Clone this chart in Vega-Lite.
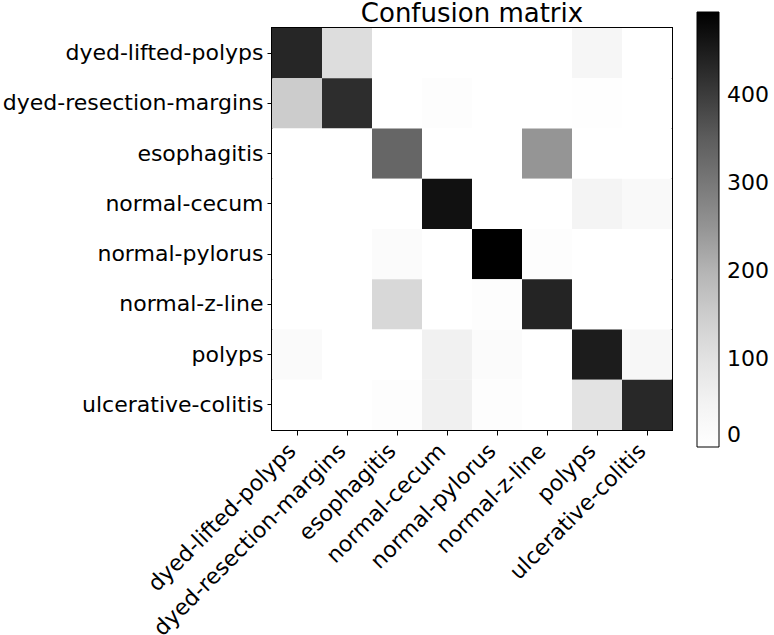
{
  "$schema": "https://vega.github.io/schema/vega-lite/v6.json",
  "autosize": {"type": "none"},
  "padding": {"left": 272, "top": 28, "right": 102, "bottom": 205},
  "width": 400,
  "height": 402,
  "background": "white",
  "title": {"text": "Confusion matrix", "fontSize": 26, "font": "DejaVu Sans", "fontWeight": "normal", "color": "black", "offset": 0, "dy": 15, "anchor": "middle", "frame": "group"},
  "config": {
    "view": {"stroke": "black", "strokeWidth": 2},
    "axis": {"labelFont": "DejaVu Sans", "labelFontSize": 22, "labelColor": "black", "domain": true, "domainColor": "black", "domainWidth": 1, "tickColor": "black", "tickSize": 5, "tickWidth": 1, "title": null, "grid": false, "zindex": 1},
    "legend": {"labelFont": "DejaVu Sans", "labelFontSize": 22, "labelColor": "black"}
  },
  "data": {"values": [
    {"true": "dyed-lifted-polyps", "pred": "dyed-lifted-polyps", "count": 431},
    {"true": "dyed-lifted-polyps", "pred": "dyed-resection-margins", "count": 113},
    {"true": "dyed-lifted-polyps", "pred": "esophagitis", "count": 0},
    {"true": "dyed-lifted-polyps", "pred": "normal-cecum", "count": 0},
    {"true": "dyed-lifted-polyps", "pred": "normal-pylorus", "count": 0},
    {"true": "dyed-lifted-polyps", "pred": "normal-z-line", "count": 0},
    {"true": "dyed-lifted-polyps", "pred": "polyps", "count": 37},
    {"true": "dyed-lifted-polyps", "pred": "ulcerative-colitis", "count": 0},
    {"true": "dyed-resection-margins", "pred": "dyed-lifted-polyps", "count": 152},
    {"true": "dyed-resection-margins", "pred": "dyed-resection-margins", "count": 420},
    {"true": "dyed-resection-margins", "pred": "esophagitis", "count": 0},
    {"true": "dyed-resection-margins", "pred": "normal-cecum", "count": 8},
    {"true": "dyed-resection-margins", "pred": "normal-pylorus", "count": 0},
    {"true": "dyed-resection-margins", "pred": "normal-z-line", "count": 0},
    {"true": "dyed-resection-margins", "pred": "polyps", "count": 4},
    {"true": "dyed-resection-margins", "pred": "ulcerative-colitis", "count": 0},
    {"true": "esophagitis", "pred": "dyed-lifted-polyps", "count": 0},
    {"true": "esophagitis", "pred": "dyed-resection-margins", "count": 0},
    {"true": "esophagitis", "pred": "esophagitis", "count": 333},
    {"true": "esophagitis", "pred": "normal-cecum", "count": 0},
    {"true": "esophagitis", "pred": "normal-pylorus", "count": 0},
    {"true": "esophagitis", "pred": "normal-z-line", "count": 249},
    {"true": "esophagitis", "pred": "polyps", "count": 0},
    {"true": "esophagitis", "pred": "ulcerative-colitis", "count": 0},
    {"true": "normal-cecum", "pred": "dyed-lifted-polyps", "count": 0},
    {"true": "normal-cecum", "pred": "dyed-resection-margins", "count": 0},
    {"true": "normal-cecum", "pred": "esophagitis", "count": 0},
    {"true": "normal-cecum", "pred": "normal-cecum", "count": 472},
    {"true": "normal-cecum", "pred": "normal-pylorus", "count": 0},
    {"true": "normal-cecum", "pred": "normal-z-line", "count": 0},
    {"true": "normal-cecum", "pred": "polyps", "count": 45},
    {"true": "normal-cecum", "pred": "ulcerative-colitis", "count": 25},
    {"true": "normal-pylorus", "pred": "dyed-lifted-polyps", "count": 0},
    {"true": "normal-pylorus", "pred": "dyed-resection-margins", "count": 0},
    {"true": "normal-pylorus", "pred": "esophagitis", "count": 16},
    {"true": "normal-pylorus", "pred": "normal-cecum", "count": 0},
    {"true": "normal-pylorus", "pred": "normal-pylorus", "count": 494},
    {"true": "normal-pylorus", "pred": "normal-z-line", "count": 8},
    {"true": "normal-pylorus", "pred": "polyps", "count": 0},
    {"true": "normal-pylorus", "pred": "ulcerative-colitis", "count": 0},
    {"true": "normal-z-line", "pred": "dyed-lifted-polyps", "count": 0},
    {"true": "normal-z-line", "pred": "dyed-resection-margins", "count": 0},
    {"true": "normal-z-line", "pred": "esophagitis", "count": 126},
    {"true": "normal-z-line", "pred": "normal-cecum", "count": 0},
    {"true": "normal-z-line", "pred": "normal-pylorus", "count": 8},
    {"true": "normal-z-line", "pred": "normal-z-line", "count": 434},
    {"true": "normal-z-line", "pred": "polyps", "count": 0},
    {"true": "normal-z-line", "pred": "ulcerative-colitis", "count": 0},
    {"true": "polyps", "pred": "dyed-lifted-polyps", "count": 21},
    {"true": "polyps", "pred": "dyed-resection-margins", "count": 0},
    {"true": "polyps", "pred": "esophagitis", "count": 0},
    {"true": "polyps", "pred": "normal-cecum", "count": 58},
    {"true": "polyps", "pred": "normal-pylorus", "count": 16},
    {"true": "polyps", "pred": "normal-z-line", "count": 0},
    {"true": "polyps", "pred": "polyps", "count": 451},
    {"true": "polyps", "pred": "ulcerative-colitis", "count": 33},
    {"true": "ulcerative-colitis", "pred": "dyed-lifted-polyps", "count": 0},
    {"true": "ulcerative-colitis", "pred": "dyed-resection-margins", "count": 0},
    {"true": "ulcerative-colitis", "pred": "esophagitis", "count": 8},
    {"true": "ulcerative-colitis", "pred": "normal-cecum", "count": 63},
    {"true": "ulcerative-colitis", "pred": "normal-pylorus", "count": 8},
    {"true": "ulcerative-colitis", "pred": "normal-z-line", "count": 0},
    {"true": "ulcerative-colitis", "pred": "polyps", "count": 97},
    {"true": "ulcerative-colitis", "pred": "ulcerative-colitis", "count": 428}
  ]},
  "mark": {"type": "rect"},
  "encoding": {
    "x": {"field": "pred", "type": "nominal", "sort": null,
      "scale": {"paddingInner": 0, "paddingOuter": 0},
      "axis": {"labelAngle": -45, "labelAlign": "right", "labelBaseline": "alphabetic", "labelPadding": 17, "labelDx": -4, "labelOverlap": false, "labelLimit": 400}},
    "y": {"field": "true", "type": "nominal", "sort": null,
      "scale": {"paddingInner": 0, "paddingOuter": 0},
      "axis": {"labelPadding": 4, "labelLimit": 400}},
    "color": {"field": "count", "type": "quantitative",
      "scale": {"domain": [0, 61.75, 123.5, 185.25, 247, 308.75, 370.5, 432.25, 494],
                "range": ["#ffffff", "#f0f0f0", "#d9d9d9", "#bdbdbd", "#969696", "#737373", "#525252", "#252525", "#000000"]},
      "legend": {"title": null, "orient": "none", "legendX": 425, "legendY": -16, "direction": "vertical",
        "gradientLength": 435, "gradientThickness": 22, "gradientStrokeColor": "black", "gradientStrokeWidth": 1,
        "values": [0, 100, 200, 300, 400], "labelFlush": false, "labelOverlap": false, "labelOffset": 8}}
  }
}
